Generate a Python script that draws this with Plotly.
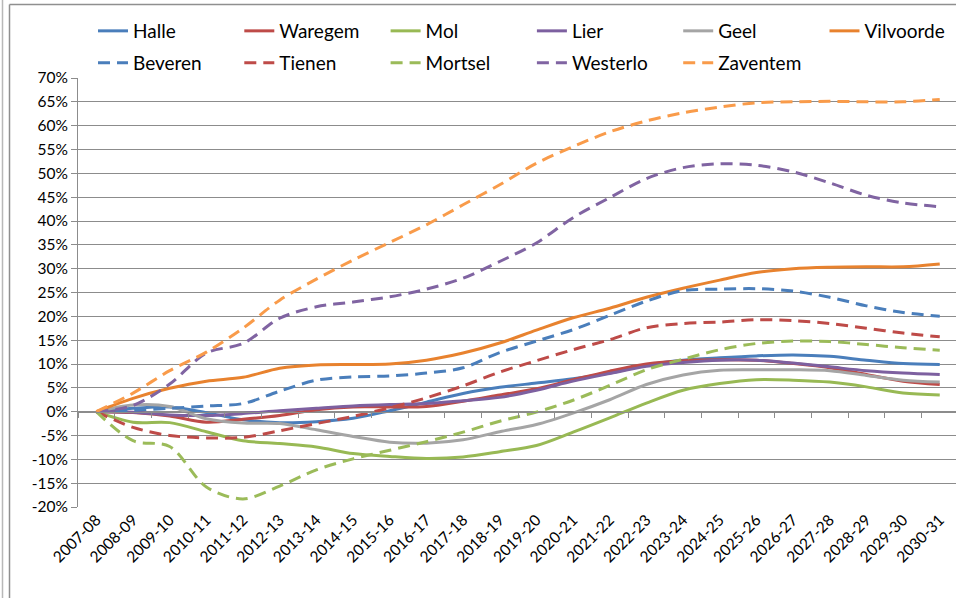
import plotly.graph_objects as go

categories = ['2007-08', '2008-09', '2009-10', '2010-11', '2011-12', '2012-13', '2013-14',
              '2014-15', '2015-16', '2016-17', '2017-18', '2018-19', '2019-20', '2020-21',
              '2021-22', '2022-23', '2023-24', '2024-25', '2025-26', '2026-27', '2027-28',
              '2028-29', '2029-30', '2030-31']

halle = [0, 0.7, 1.0, -0.2, -1.7, -2.3, -2.1, -1.4, 0.2, 2.0, 3.8, 5.1, 6.0, 6.9, 8.1, 9.8,
         10.8, 11.3, 11.7, 11.9, 11.6, 10.8, 10.1, 9.9]
waregem = [0, -0.2, -0.9, -2.2, -1.6, -0.8, 0.4, 1.0, 1.0, 1.1, 2.2, 3.5, 4.8, 6.7, 8.5, 10.0,
           10.7, 10.9, 10.8, 10.1, 9.2, 7.8, 6.4, 5.7]
mol = [0, -2.2, -2.3, -4.2, -6.1, -6.7, -7.4, -8.8, -9.4, -9.8, -9.5, -8.4, -7.1, -4.3, -1.3, 1.8,
       4.5, 5.9, 6.7, 6.6, 6.2, 5.2, 3.9, 3.5]
lier = [0, -0.1, -0.7, -0.8, -0.4, 0.2, 0.7, 1.2, 1.5, 1.7, 2.3, 3.0, 4.5, 6.4, 8.0, 9.5,
        10.3, 10.8, 10.8, 10.2, 9.4, 8.6, 8.1, 7.8]
geel = [0, 1.4, 1.1, -1.5, -2.4, -2.5, -3.8, -5.2, -6.4, -6.6, -5.9, -4.2, -2.7, -0.3, 2.5, 5.7,
        7.7, 8.7, 8.8, 8.8, 8.6, 7.6, 6.6, 6.2]
vilvoorde = [0, 2.8, 4.9, 6.4, 7.2, 9.1, 9.8, 9.9, 10.0, 10.8, 12.3, 14.4, 17.1, 19.7, 21.7, 24.0,
             25.9, 27.6, 29.2, 30.0, 30.3, 30.4, 30.4, 31.0]
beveren = [0, 0.3, 0.7, 1.2, 1.7, 4.3, 6.6, 7.3, 7.5, 8.1, 9.2, 12.4, 14.8, 17.2, 20.2, 23.2,
           25.4, 25.7, 25.8, 25.3, 24.0, 22.2, 20.8, 20.0]
tienen = [0, -3.3, -5.0, -5.5, -5.4, -4.0, -2.5, -1.0, 0.8, 2.9, 5.4, 8.3, 10.7, 13.0, 15.1, 17.6,
          18.5, 18.8, 19.3, 19.1, 18.5, 17.5, 16.5, 15.7]
mortsel = [0, -6.1, -7.3, -15.8, -18.3, -15.6, -12.2, -9.9, -8.1, -6.3, -4.3, -2.0, -0.1, 2.4, 5.5,
           8.8, 11.0, 13.0, 14.3, 14.8, 14.7, 14.1, 13.4, 12.9]
westerlo = [0, 1.3, 5.8, 12.3, 14.3, 19.6, 22.0, 23.0, 24.1, 25.7, 28.0, 31.5, 35.4, 40.7, 44.9,
            48.9, 51.2, 52.0, 51.7, 50.3, 48.0, 45.4, 43.8, 43.0]
zaventem = [0, 3.9, 8.6, 12.5, 17.5, 23.4, 27.8, 31.8, 35.5, 39.2, 43.4, 47.6, 52.1, 55.6, 58.7,
            61.0, 62.7, 63.9, 64.8, 65.0, 65.1, 65.0, 65.0, 65.5]

y_tick_vals = [-20, -15, -10, -5, 0, 5, 10, 15, 20, 25, 30, 35, 40, 45, 50, 55, 60, 65, 70]
y_tick_text = [f"{v}%" for v in y_tick_vals]

FONT = "Lato, 'Open Sans', sans-serif"
GRID = '#8c8c8c'
DASH = '12px,7px'

series = [
    ('Halle', halle, '#4A7EBB', 'solid', 'legend'),
    ('Waregem', waregem, '#BE4B48', 'solid', 'legend'),
    ('Mol', mol, '#98B954', 'solid', 'legend'),
    ('Lier', lier, '#7D60A0', 'solid', 'legend'),
    ('Geel', geel, '#A5A5A5', 'solid', 'legend'),
    ('Vilvoorde', vilvoorde, '#E8822E', 'solid', 'legend'),
    ('Beveren', beveren, '#4A7EBB', DASH, 'legend2'),
    ('Tienen', tienen, '#BE4B48', DASH, 'legend2'),
    ('Mortsel', mortsel, '#9BBB59', DASH, 'legend2'),
    ('Westerlo', westerlo, '#8064A2', DASH, 'legend2'),
    ('Zaventem', zaventem, '#F99B4A', DASH, 'legend2'),
]

x_idx = list(range(len(categories)))

fig = go.Figure()
for name, vals, color, dash, leg in series:
    fig.add_trace(go.Scatter(
        x=x_idx, y=vals, name=name, mode='lines',
        line=dict(color=color, width=3, dash=dash, shape='spline', smoothing=0.9),
        legend=leg,
    ))

fig.add_trace(go.Scatter(x=[0], y=[None], xaxis='x2', yaxis='y', showlegend=False,
                         hoverinfo='skip', mode='lines'))

L, T, B = 78, 78, 91
W, H = 956, 598
pw = W - L
ph = H - T - B
step = 36.67
x_hi = -0.5 + pw / step
zero_pos = 20 / 90
entry_frac = 146.3 / pw

def px(xp):
    return (xp - L) / pw

def py(yp):
    return (H - B - yp) / ph

legend_common = dict(orientation='h', xanchor='left', yanchor='middle',
                     entrywidth=entry_frac, entrywidthmode='fraction',
                     font=dict(size=19, family=FONT), bgcolor='rgba(0,0,0,0)',
                     itemclick=False, itemdoubleclick=False)

fig.update_layout(
    width=W, height=H,
    margin=dict(l=L, r=0, t=T, b=B, pad=0, autoexpand=False),
    paper_bgcolor='white', plot_bgcolor='white',
    font=dict(family=FONT, size=15.5, color='#000000'),
    xaxis=dict(range=[-0.5, x_hi], tickmode='array', tickvals=x_idx, ticktext=categories,
               tickangle=-45, showgrid=False, zeroline=False, showline=False, ticks='',
               tickfont=dict(size=15.5, family=FONT)),
    xaxis2=dict(range=[-0.5, x_hi], overlaying='x', anchor='free', position=zero_pos,
                side='bottom', showgrid=False, zeroline=False, showline=True, linecolor=GRID,
                linewidth=1, ticks='outside', ticklen=5, tickcolor=GRID, tickwidth=1,
                tickmode='array', tickvals=[i - 0.5 for i in range(len(categories) + 1)],
                showticklabels=False),
    yaxis=dict(range=[-20, 70], tickmode='array', tickvals=y_tick_vals, ticktext=y_tick_text,
               showgrid=True, gridcolor=GRID, gridwidth=1, zeroline=False,
               showline=True, linecolor=GRID, linewidth=1, ticks='outside', ticklen=6,
               tickcolor=GRID, tickfont=dict(size=15.5, family=FONT)),
    legend=dict(x=px(93), y=py(31), **legend_common),
    legend2=dict(x=px(93), y=py(63), **legend_common),
    showlegend=True,
)

# chart-area frame, drawn as separate border lines in paper space
frame_lines = [
    ((2.5, 0), (2.5, 598), '#b8b8b8'),
    ((9.5, 4.5), (9.5, 598), '#8f8f8f'),
    ((9.5, 4.5), (956, 4.5), '#8f8f8f'),
]
for (x0, y0), (x1, y1), col in frame_lines:
    fig.add_shape(type='line', xref='paper', yref='paper', layer='above',
                  x0=px(x0), x1=px(x1), y0=py(y0), y1=py(y1),
                  line=dict(color=col, width=1.5))

fig.write_html("out.html", config={'displayModeBar': False},
               post_script="document.body.style.margin='0px';document.body.style.overflow='hidden';")
